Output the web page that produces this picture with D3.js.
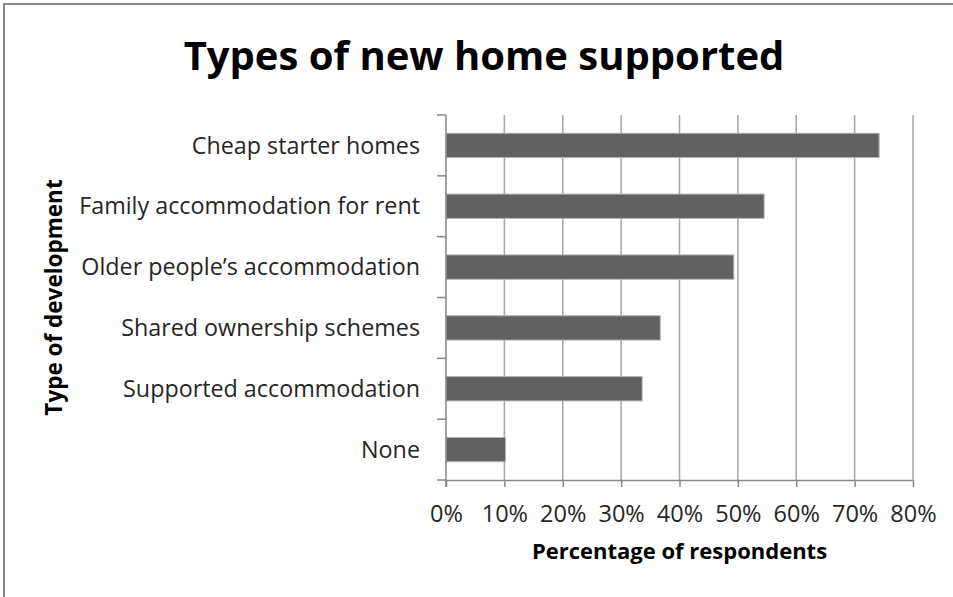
<!DOCTYPE html>
<html>
<head>
<meta charset="utf-8">
<script src="https://cdn.jsdelivr.net/npm/d3@7"></script>
<style>
  body { margin: 0; background: #fff; }
  text { font-family: "Open Sans", sans-serif; }
</style>
</head>
<body>
<div id="chart"></div>
<script>
const categories = ["Cheap starter homes", "Family accommodation for rent", "Older people\u2019s accommodation",
  "Shared ownership schemes", "Supported accommodation", "None"];
const values = [0.742, 0.545, 0.493, 0.367, 0.336, 0.102];
const xTicks = [0, 0.1, 0.2, 0.3, 0.4, 0.5, 0.6, 0.7, 0.8];

const width = 953, height = 597;
const margin = {top: 115, right: 40, bottom: 117, left: 446};

const svg = d3.select("#chart").append("svg")
    .attr("width", width)
    .attr("height", height);

// outer frame (left and top edges visible)
svg.append("path")
    .attr("d", `M4,${height} V4 H${width}`)
    .attr("fill", "none")
    .attr("stroke", "#868686")
    .attr("stroke-width", 2);

const x = d3.scaleLinear().domain([0, 0.8]).range([margin.left, width - margin.right]);
const y = d3.scaleBand().domain(categories).range([margin.top, height - margin.bottom]).paddingInner(0.6).paddingOuter(0.3);
const yOuter = d3.scaleBand().domain(categories).range([margin.top, height - margin.bottom]);

// gridlines
svg.append("g")
  .selectAll("line")
  .data(xTicks.slice(1))
  .join("line")
    .attr("x1", d => x(d)).attr("x2", d => x(d))
    .attr("y1", margin.top).attr("y2", height - margin.bottom)
    .attr("stroke", "#a6a6a6")
    .attr("stroke-width", 1.5);

// bars
svg.append("g")
  .selectAll("rect")
  .data(categories)
  .join("rect")
    .attr("x", x(0))
    .attr("y", d => y(d))
    .attr("width", (d, i) => x(values[i]) - x(0))
    .attr("height", y.bandwidth())
    .attr("fill", "#616161")
    .attr("stroke", "#b4b4b4")
    .attr("stroke-width", 1);

// x axis
const xAxis = svg.append("g")
    .attr("transform", `translate(0,${height - margin.bottom})`)
    .call(d3.axisBottom(x).tickValues(xTicks).tickFormat(d3.format(".0%")).tickSize(7).tickSizeOuter(0));
xAxis.select(".domain").attr("stroke", "#868686").attr("stroke-width", 1.5);
xAxis.selectAll(".tick line").attr("stroke", "#868686").attr("stroke-width", 1.5);
xAxis.selectAll(".tick text")
    .attr("y", 25)
    .attr("font-family", "Open Sans")
    .attr("font-size", 23.5)
    .attr("fill", "#262626");

// y axis with ticks between categories
const yAxis = svg.append("g")
    .attr("transform", `translate(${margin.left},0)`);
yAxis.append("line")
    .attr("x1", 0).attr("x2", 0)
    .attr("y1", margin.top).attr("y2", height - margin.bottom + 7)
    .attr("stroke", "#868686").attr("stroke-width", 1.5);
yAxis.selectAll("line.tk")
  .data(categories.concat(["end"]))
  .join("line")
    .attr("class", "tk")
    .attr("x1", -9).attr("x2", 0)
    .attr("y1", (d, i) => i < categories.length ? yOuter(d) : height - margin.bottom)
    .attr("y2", (d, i) => i < categories.length ? yOuter(d) : height - margin.bottom)
    .attr("stroke", "#868686").attr("stroke-width", 1.5);
yAxis.selectAll("text")
  .data(categories)
  .join("text")
    .attr("x", -26)
    .attr("y", d => yOuter(d) + yOuter.bandwidth() / 2)
    .attr("dy", "0.35em")
    .attr("text-anchor", "end")
    .attr("font-size", 23.3)
    .attr("fill", "#262626")
    .text(d => d);

// titles
svg.append("text")
    .attr("x", 484)
    .attr("y", 70)
    .attr("text-anchor", "middle")
    .attr("font-size", 40)
    .attr("font-weight", "bold")
    .attr("fill", "#000")
    .text("Types of new home supported");

svg.append("text")
    .attr("x", (x(0) + x(0.8)) / 2)
    .attr("y", 559)
    .attr("text-anchor", "middle")
    .attr("font-size", 22)
    .attr("font-weight", "bold")
    .attr("fill", "#000")
    .text("Percentage of respondents");

svg.append("text")
    .attr("transform", `translate(62,${(margin.top + height - margin.bottom) / 2}) rotate(-90)`)
    .attr("text-anchor", "middle")
    .attr("font-size", 22.5)
    .attr("font-weight", "bold")
    .attr("fill", "#000")
    .text("Type of development");
</script>
</body>
</html>
